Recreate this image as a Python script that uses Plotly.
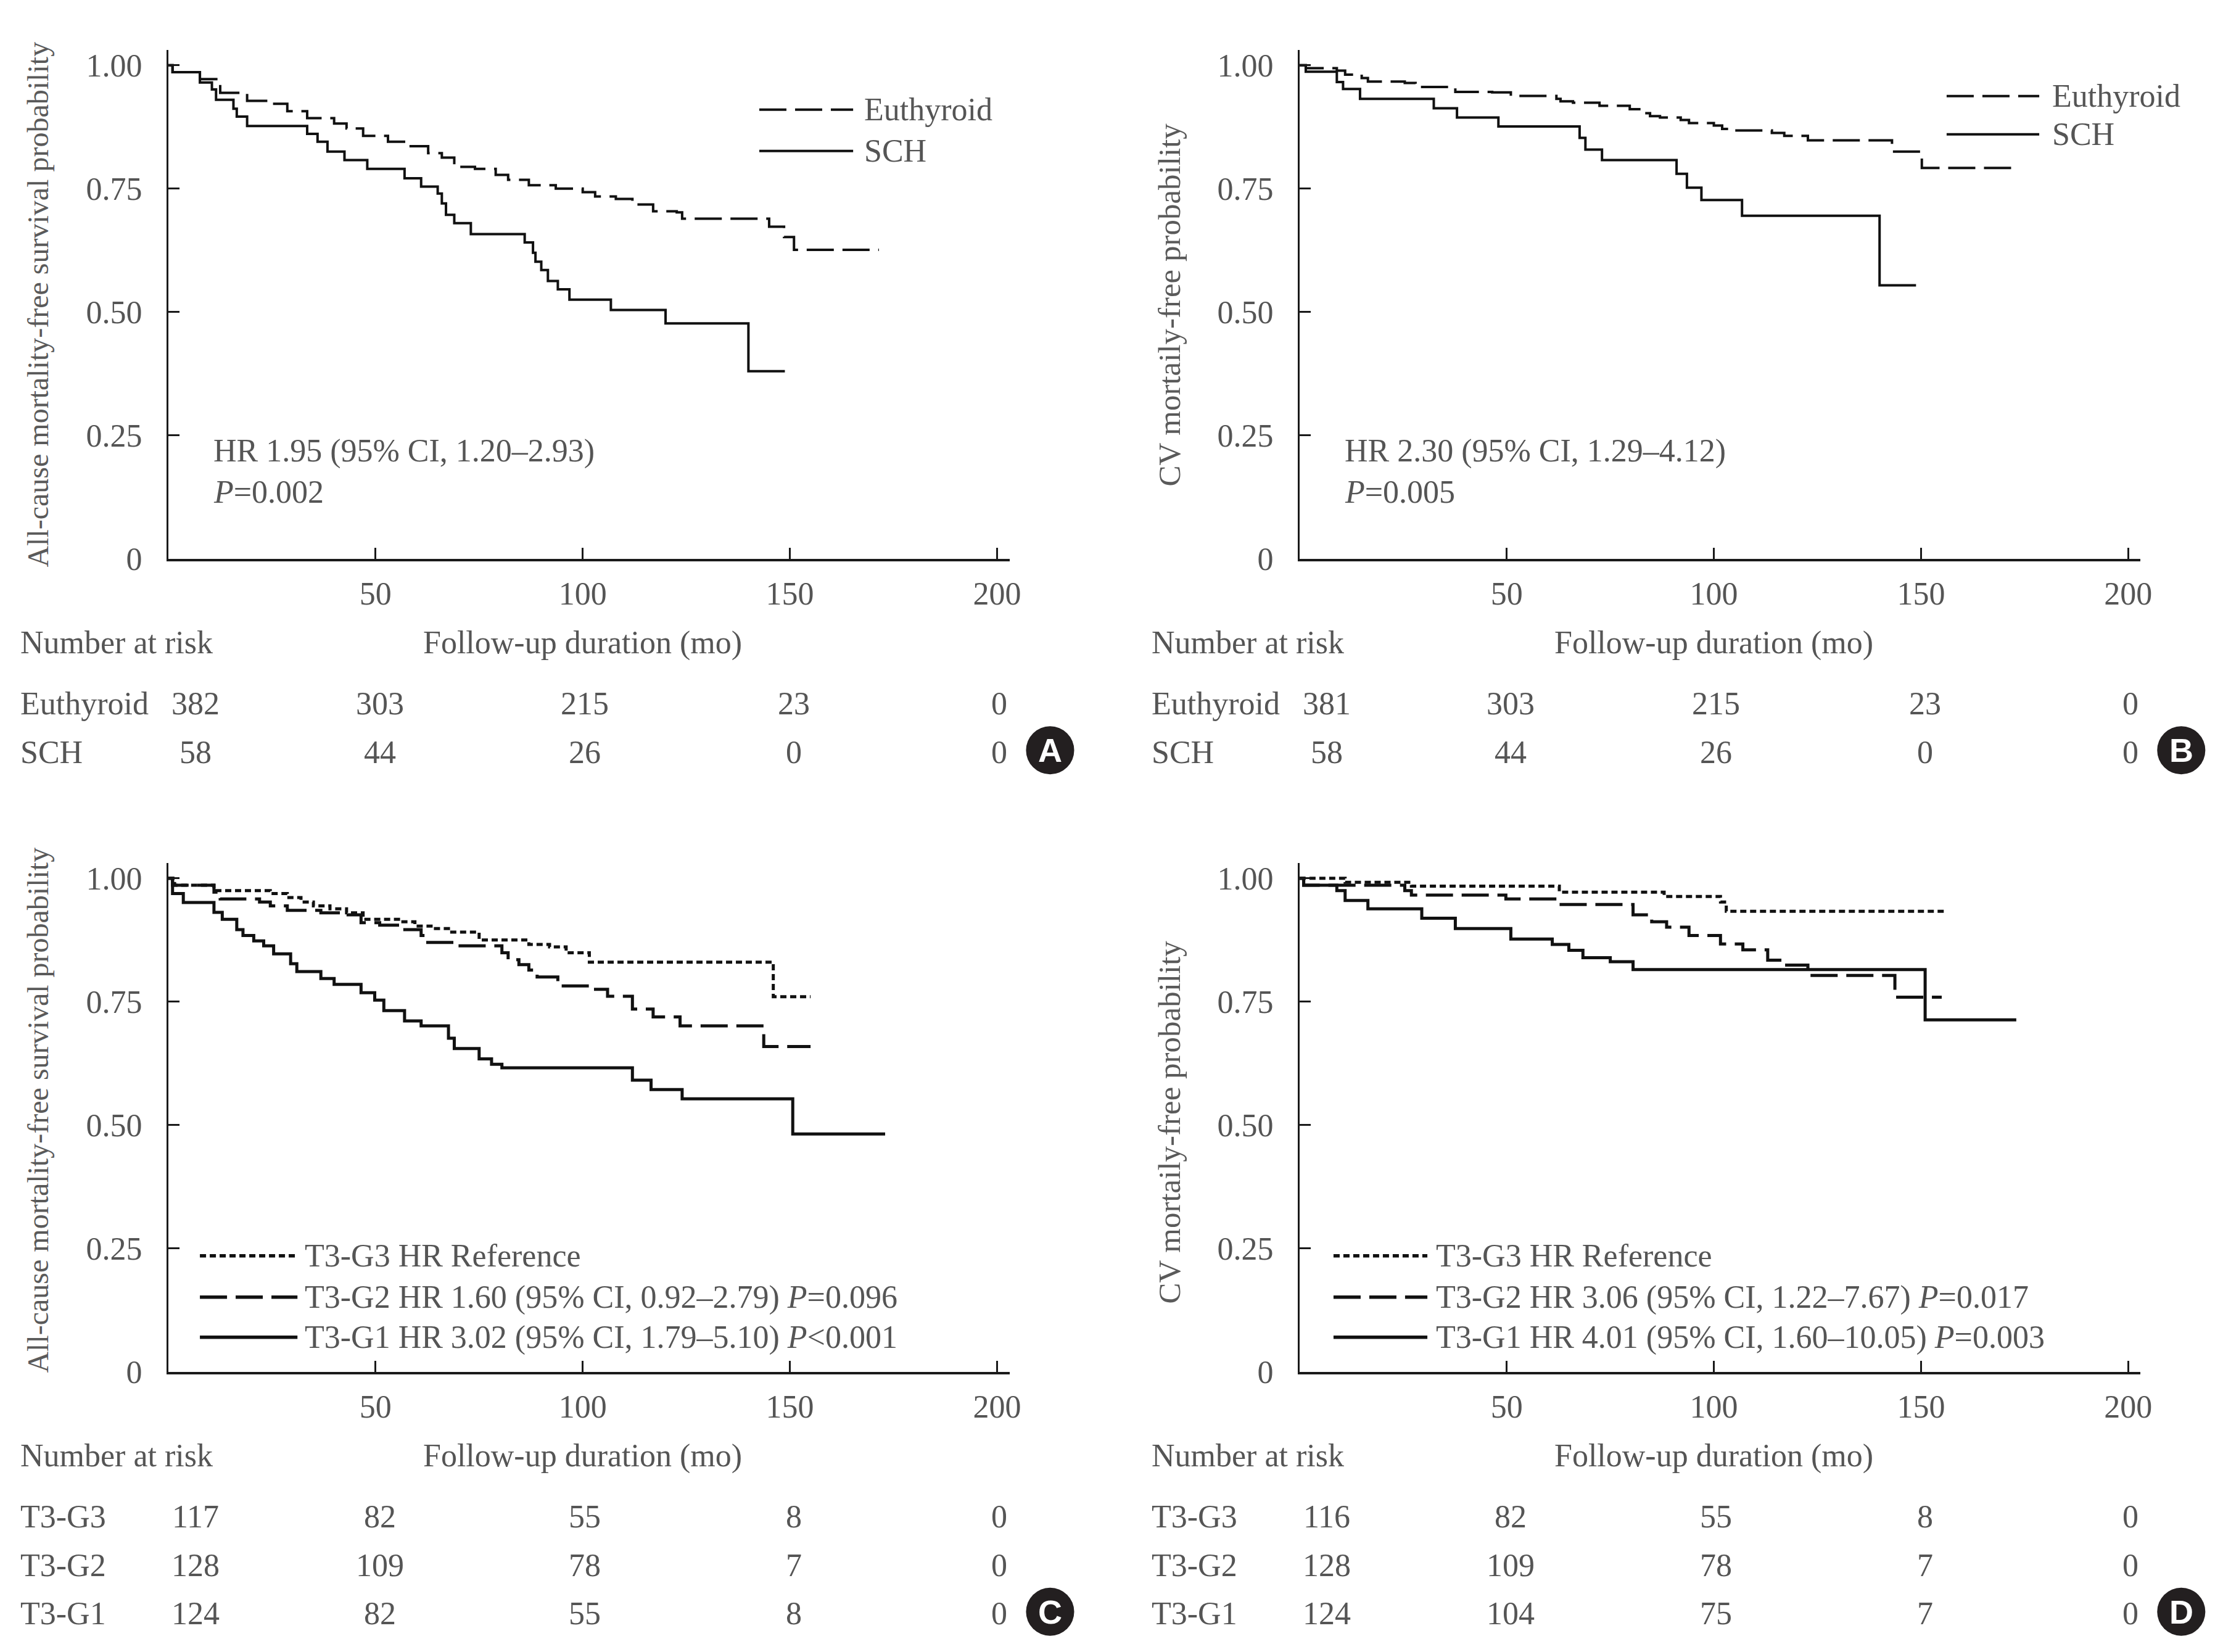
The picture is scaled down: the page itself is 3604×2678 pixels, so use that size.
import plotly.graph_objects as go

# page body has an 8px default margin; the figure is offset by it
OFF = 8
W, H = 3604 - 2 * OFF, 2678 - 2 * OFF
# empirical screen mapping of the rendered page (measured): screen = A + S * spec
SX, AX = 0.9937, 1.3
SY, AY = 0.988, 3.3

# ---------------- data ----------------
A_eu_t = [0, 1, 7.6, 12.5, 19, 24, 28.7, 33.5, 40, 43, 47, 53, 58, 62.7, 66, 69, 74, 79, 82, 87, 93.5, 100, 103, 108, 112, 117, 122.7, 124, 145, 148.6, 151, 171.5]
A_eu_s = [1, 0.986, 0.972, 0.944, 0.928, 0.922, 0.907, 0.893, 0.882, 0.872, 0.857, 0.845, 0.836, 0.822, 0.813, 0.794, 0.790, 0.778, 0.768, 0.757, 0.750, 0.743, 0.734, 0.729, 0.718, 0.704, 0.702, 0.689, 0.673, 0.652, 0.626, 0.626]
A_sch_t = [0, 1, 7.6, 10.5, 11.5, 15.7, 16.5, 19, 33.5, 36, 38.4, 42.5, 48, 57, 61, 65, 66, 67, 69, 73, 86, 88, 88.6, 90, 91.6, 94, 96.8, 106.8, 120, 140, 148.8]
A_sch_s = [1, 0.986, 0.965, 0.951, 0.930, 0.912, 0.896, 0.877, 0.861, 0.845, 0.825, 0.808, 0.790, 0.771, 0.754, 0.740, 0.720, 0.697, 0.680, 0.658, 0.641, 0.620, 0.602, 0.585, 0.563, 0.546, 0.525, 0.504, 0.477, 0.380, 0.380]

B_eu_t = [0, 1.5, 9, 11, 15, 16.5, 25.4, 28, 37.6, 46.5, 51, 62, 63, 66, 72.4, 79.7, 82, 84.6, 87, 92, 94, 100, 102, 105, 114, 117, 122.7, 143, 150.2, 172.3]
B_eu_s = [1, 0.994, 0.989, 0.981, 0.974, 0.967, 0.964, 0.956, 0.946, 0.945, 0.938, 0.932, 0.927, 0.924, 0.918, 0.911, 0.903, 0.897, 0.894, 0.889, 0.883, 0.878, 0.871, 0.868, 0.863, 0.857, 0.848, 0.825, 0.792, 0.792]
B_sch_t = [0, 1.5, 9, 10.5, 14.6, 32.4, 38, 48, 67.6, 69, 73, 91, 93.5, 97, 106.8, 140, 148.8]
B_sch_s = [1, 0.987, 0.966, 0.952, 0.932, 0.913, 0.894, 0.876, 0.853, 0.829, 0.808, 0.780, 0.752, 0.727, 0.695, 0.554, 0.554]

C_g3_t = [0, 1.5, 11, 24.6, 28.7, 32, 35, 39, 43, 47, 56, 59.5, 64, 67.6, 75, 87, 92, 96, 101.6, 146, 155]
C_g3_s = [1, 0.986, 0.975, 0.969, 0.961, 0.952, 0.944, 0.938, 0.930, 0.917, 0.912, 0.903, 0.898, 0.891, 0.875, 0.866, 0.861, 0.849, 0.830, 0.760, 0.760]
C_g2_t = [0, 1, 11, 12.5, 22, 24.6, 28.7, 36.8, 41.6, 46.5, 51, 56, 61, 62, 69, 80.5, 82, 84.6, 87, 89, 94, 101.6, 106, 112, 117, 123.5, 143.7, 155]
C_g2_s = [1, 0.986, 0.972, 0.958, 0.952, 0.944, 0.935, 0.930, 0.926, 0.910, 0.905, 0.896, 0.884, 0.870, 0.863, 0.849, 0.835, 0.825, 0.814, 0.800, 0.782, 0.775, 0.761, 0.735, 0.719, 0.701, 0.659, 0.659]
C_g1_t = [0, 1, 3.6, 11, 13, 16.5, 18, 20.6, 23, 25.4, 29.5, 31, 36.8, 40, 46.5, 49.8, 52, 57, 61, 67.6, 69, 75, 78, 80.5, 112, 116.5, 124, 150.7, 173]
C_g1_s = [1, 0.969, 0.951, 0.931, 0.917, 0.896, 0.884, 0.873, 0.863, 0.847, 0.827, 0.811, 0.797, 0.785, 0.768, 0.753, 0.732, 0.711, 0.701, 0.676, 0.655, 0.634, 0.623, 0.616, 0.591, 0.572, 0.553, 0.482, 0.482]

D_g3_t = [0, 11, 27, 62.7, 88, 101.6, 103, 156]
D_g3_s = [1, 0.992, 0.984, 0.972, 0.963, 0.952, 0.933, 0.933]
D_g2_t = [0, 1, 25.4, 27, 49.8, 62, 80.5, 85, 88.6, 94, 101.6, 107, 113, 117, 122.7, 143.7, 155]
D_g2_s = [1, 0.986, 0.975, 0.966, 0.958, 0.947, 0.926, 0.912, 0.901, 0.884, 0.867, 0.855, 0.834, 0.824, 0.803, 0.759, 0.759]
D_g1_t = [0, 1, 9, 11, 16.5, 29.5, 37.6, 51, 61, 65, 68.4, 75, 80.5, 151, 173]
D_g1_s = [1, 0.986, 0.975, 0.955, 0.938, 0.919, 0.898, 0.877, 0.866, 0.854, 0.839, 0.831, 0.815, 0.713, 0.713]

risk_times = [0, 50, 100, 150, 200]
A_risk_labels = ["Euthyroid", "SCH"]
A_risk = [[382, 303, 215, 23, 0], [58, 44, 26, 0, 0]]
B_risk_labels = ["Euthyroid", "SCH"]
B_risk = [[381, 303, 215, 23, 0], [58, 44, 26, 0, 0]]
C_risk_labels = ["T3-G3", "T3-G2", "T3-G1"]
C_risk = [[117, 82, 55, 8, 0], [128, 109, 78, 7, 0], [124, 82, 55, 8, 0]]
D_risk_labels = ["T3-G3", "T3-G2", "T3-G1"]
D_risk = [[116, 82, 55, 8, 0], [128, 109, 78, 7, 0], [124, 104, 75, 7, 0]]

x_tickvals = [50, 100, 150, 200]
x_ticktext = ["50", "100", "150", "200"]
y_tickvals = [0, 0.25, 0.5, 0.75, 1.0]
y_ticktext = ["0", "0.25", "0.50", "0.75", "1.00"]

A_legend = ["Euthyroid", "SCH"]
B_legend = ["Euthyroid", "SCH"]
C_legend = ["T3-G3 HR Reference",
            "T3-G2 HR 1.60 (95% CI, 0.92–2.79) <i>P</i>=0.096",
            "T3-G1 HR 3.02 (95% CI, 1.79–5.10) <i>P</i>&lt;0.001"]
D_legend = ["T3-G3 HR Reference",
            "T3-G2 HR 3.06 (95% CI, 1.22–7.67) <i>P</i>=0.017",
            "T3-G1 HR 4.01 (95% CI, 1.60–10.05) <i>P</i>=0.003"]
A_hr = ["HR 1.95 (95% CI, 1.20–2.93)", "<i>P</i>=0.002"]
B_hr = ["HR 2.30 (95% CI, 1.29–4.12)", "<i>P</i>=0.005"]
A_ytitle = "All-cause mortality-free survival probability"
B_ytitle = "CV mortaily-free probability"
x_title = "Follow-up duration (mo)"

# ---------------- styling / geometry (target screen pixels) ----------------
FONT = "Liberation Serif"
TXT = "#555555"
FS = 52
PXM = 6.71      # px per month
PYU = 800.0     # px per unit survival
XMAX = 203.0
YMAX = 1.031
DASH = "44px,14px"
DOT = "10px,6px"

panels = {
    "A": dict(X0=274, Y0=906, ax="", lw=4),
    "B": dict(X0=2106, Y0=906, ax="2", lw=4),
    "C": dict(X0=274, Y0=2224, ax="3", lw=5),
    "D": dict(X0=2106, Y0=2224, ax="4", lw=5),
}

def px(x):
    return ((x - AX) / SX - OFF) / W

def py(y):
    return 1 - ((y - AY) / SY - OFF) / H

fig = go.Figure()
annotations = []
shapes = []

series = {
    "A": [(A_eu_t, A_eu_s, DASH), (A_sch_t, A_sch_s, "solid")],
    "B": [(B_eu_t, B_eu_s, DASH), (B_sch_t, B_sch_s, "solid")],
    "C": [(C_g3_t, C_g3_s, DOT), (C_g2_t, C_g2_s, DASH), (C_g1_t, C_g1_s, "solid")],
    "D": [(D_g3_t, D_g3_s, DOT), (D_g2_t, D_g2_s, DASH), (D_g1_t, D_g1_s, "solid")],
}

layout_axes = {}
for key, p in panels.items():
    X0, Y0, ax, lw = p["X0"], p["Y0"], p["ax"], p["lw"]
    xname = "x" + ax
    yname = "y" + ax
    for t, s, dash in series[key]:
        fig.add_trace(go.Scatter(x=t, y=s, mode="lines", line=dict(color="#111111", width=lw, dash=dash, shape="hv"),
                                 xaxis=xname, yaxis=yname, showlegend=False, hoverinfo="skip"))
    xdom = [px(X0), px(X0 + XMAX * PXM)]
    ydom = [py(Y0), py(Y0 - YMAX * PYU)]
    layout_axes["xaxis" + ax] = dict(domain=xdom, range=[0, XMAX], anchor=yname, showgrid=False, zeroline=False,
                                     showline=True, linecolor="#1a1a1a", linewidth=3.5,
                                     ticks="inside", ticklen=18, tickwidth=3, tickcolor="#1a1a1a",
                                     tickvals=x_tickvals, ticktext=x_ticktext, ticklabelstandoff=8,
                                     tickfont=dict(family=FONT, size=FS, color=TXT))
    layout_axes["yaxis" + ax] = dict(domain=ydom, range=[0, YMAX], anchor=xname, showgrid=False, zeroline=False,
                                     showline=True, linecolor="#1a1a1a", linewidth=3,
                                     ticks="inside", ticklen=18, tickwidth=3, tickcolor="#1a1a1a",
                                     tickvals=y_tickvals, ticktext=y_ticktext, ticklabelstandoff=29,
                                     tickfont=dict(family=FONT, size=FS, color=TXT))

    annotations.append(dict(x=100, xref=xname, y=py(Y0 + 136), yref="paper", text=x_title, showarrow=False,
                            xanchor="center", yanchor="middle", font=dict(family=FONT, size=FS, color=TXT)))
    annotations.append(dict(x=px(X0 - 242), xref="paper", y=py(Y0 + 136), yref="paper", text="Number at risk",
                            showarrow=False, xanchor="left", yanchor="middle", font=dict(family=FONT, size=FS, color=TXT)))

risk_tables = {"A": (A_risk_labels, A_risk), "B": (B_risk_labels, B_risk),
               "C": (C_risk_labels, C_risk), "D": (D_risk_labels, D_risk)}
col_shift = [6.5, 1, 0.5, 1, 0.5]
for key, (labels, rows) in risk_tables.items():
    p = panels[key]
    X0, Y0, ax = p["X0"], p["Y0"], p["ax"]
    for i, (lab, vals) in enumerate(zip(labels, rows)):
        yy = py(Y0 + 235 + 78.5 * i)
        annotations.append(dict(x=px(X0 - 242), xref="paper", y=yy, yref="paper", text=lab, showarrow=False,
                                xanchor="left", yanchor="middle", font=dict(family=FONT, size=FS, color=TXT)))
        for t, v, sh in zip(risk_times, vals, col_shift):
            annotations.append(dict(x=t + sh, xref="x" + ax, y=yy, yref="paper", text=str(v), showarrow=False,
                                    xanchor="center", yanchor="middle", font=dict(family=FONT, size=FS, color=TXT)))
    cy = Y0 + 235 + 78.5 * (len(labels) - 1) - 3
    cx = X0 + 1428
    r = 39
    shapes.append(dict(type="circle", xref="paper", yref="paper", x0=px(cx - r), x1=px(cx + r),
                       y0=py(cy + r), y1=py(cy - r), fillcolor="#231f20", line=dict(width=0)))
    annotations.append(dict(x=px(cx), xref="paper", y=py(cy), yref="paper", text="<b>" + key + "</b>", showarrow=False,
                            xanchor="center", yanchor="middle", font=dict(family="Liberation Sans", size=54, color="white")))

ytitles = {"A": (A_ytitle, 494, 48), "B": (B_ytitle, 494, 51), "C": (A_ytitle, 1800, 48), "D": (B_ytitle, 1819, 51)}
for key, (txt, yc, fsz) in ytitles.items():
    X0 = panels[key]["X0"]
    annotations.append(dict(x=px(X0 - 211), xref="paper", y=py(yc), yref="paper", text=txt, textangle=-90,
                            showarrow=False, xanchor="center", yanchor="middle",
                            font=dict(family=FONT, size=fsz, color="#5a5a5a")))

for key, lines in (("A", A_hr), ("B", B_hr)):
    X0, Y0 = panels[key]["X0"], panels[key]["Y0"]
    for j, txt in enumerate(lines):
        annotations.append(dict(x=px(X0 + 71), xref="paper", y=py(Y0 - 175 + 67 * j), yref="paper", text=txt,
                                showarrow=False, xanchor="left", yanchor="middle",
                                font=dict(family=FONT, size=FS, color=TXT)))

legend_specs = {
    "A": (A_legend, [DASH, "solid"], 957, 1109, 1125, [178, 245], 4),
    "B": (B_legend, [DASH, "solid"], 1048, 1198, 1217, [156, 218], 4),
    "C": (C_legend, [DOT, DASH, "solid"], 51, 209, 219, [2036, 2103, 2168], 5.5),
    "D": (D_legend, [DOT, DASH, "solid"], 55, 207, 219, [2036, 2103, 2168], 5.5),
}
for key, (labs, dashes, lx0, lx1, tx, ys, lw) in legend_specs.items():
    X0 = panels[key]["X0"]
    for lab, dash, yy in zip(labs, dashes, ys):
        shapes.append(dict(type="line", xref="paper", yref="paper", x0=px(X0 + lx0), x1=px(X0 + lx1),
                           y0=py(yy), y1=py(yy), line=dict(color="#111111", width=lw, dash=dash)))
        annotations.append(dict(x=px(X0 + tx), xref="paper", y=py(yy), yref="paper", text=lab, showarrow=False,
                                xanchor="left", yanchor="middle", font=dict(family=FONT, size=FS, color=TXT)))

fig.update_layout(width=W, height=H, margin=dict(l=0, r=0, t=0, b=0), paper_bgcolor="white",
                  plot_bgcolor="white", showlegend=False, annotations=annotations, shapes=shapes,
                  font=dict(family=FONT, size=FS, color=TXT), **layout_axes)

fig.write_html("out.html")
